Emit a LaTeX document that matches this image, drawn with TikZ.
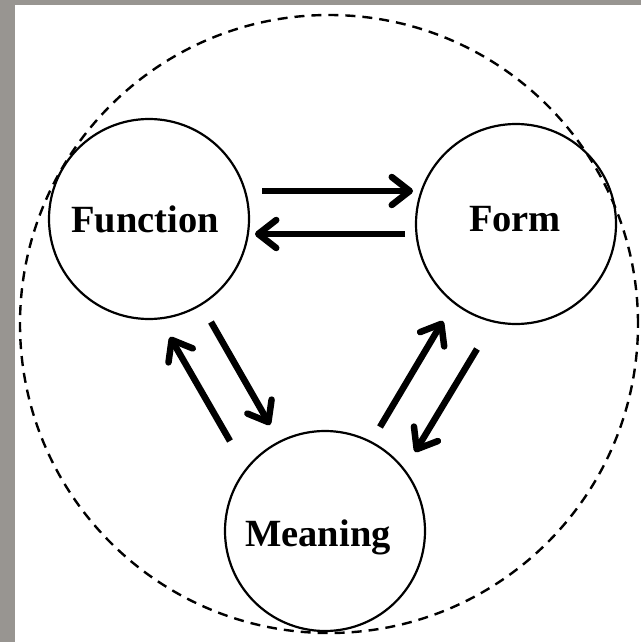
\documentclass[tikz,border=0pt]{standalone}
\usepackage{fontspec}
\setmainfont{Liberation Serif}
\usetikzlibrary{arrows.meta}
\definecolor{stone}{RGB}{152,149,145}
\tikzset{
  concept/.style={circle,draw=black,line width=2.2pt,minimum size=200pt,inner sep=0pt},
  lbl/.style={anchor=base,font=\fontsize{38.5pt}{40pt}\selectfont\bfseries,inner sep=0pt},
  flow/.style={line width=6.5pt,-{Straight Barb[length=18pt,width=28pt,round]}},
  hull/.style={draw=black,line width=2.4pt,dash pattern=on 10pt off 7pt}
}
\begin{document}
\begin{tikzpicture}[x=1pt,y=-1pt]
\useasboundingbox (0,0) rectangle (641,642);
\fill[stone] (0,0) rectangle (641,642);
\fill[white] (15,5) rectangle (641,642);
\node[circle,hull,minimum size=618pt,inner sep=0pt] (outer) at (329,324) {};
\node[concept] (fun) at (149,219) {};
\node[concept] (form) at (516,224) {};
\node[concept] (mean) at (325,531) {};
\node[lbl] (funtxt) at (145,232) {Function};
\node[lbl] (formtxt) at (515,231) {Form};
\node[lbl] (meantxt) at (318,546) {Meaning};
\coordinate (a1s) at (262,191);
\coordinate (a1e) at (413,191);
\coordinate (a2s) at (405,234);
\coordinate (a2e) at (255,234);
\coordinate (a3s) at (211,322);
\coordinate (a3e) at (270,425);
\coordinate (a4s) at (230,441);
\coordinate (a4e) at (170,337);
\coordinate (a5s) at (380,427);
\coordinate (a5e) at (443,321);
\coordinate (a6s) at (477,349);
\coordinate (a6e) at (415,452);
\draw[flow] (a1s) -- (a1e);
\draw[flow] (a2s) -- (a2e);
\draw[flow] (a3s) -- (a3e);
\draw[flow] (a4s) -- (a4e);
\draw[flow] (a5s) -- (a5e);
\draw[flow] (a6s) -- (a6e);
\end{tikzpicture}
\end{document}
